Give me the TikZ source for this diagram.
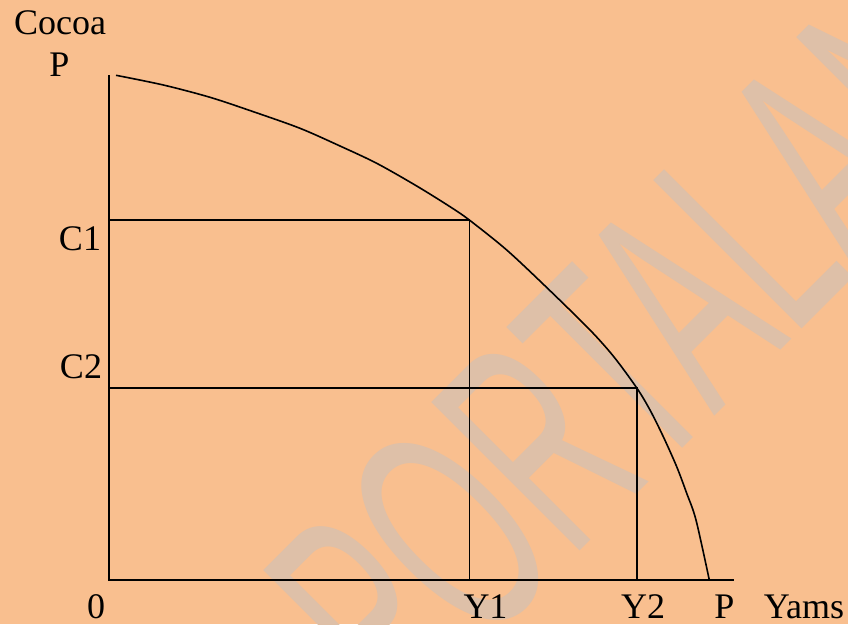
\documentclass[tikz,border=0pt]{standalone}
\usepackage{fontspec}
\setmainfont{Liberation Serif}
\newfontfamily\wmfont{Liberation Sans}
\definecolor{bgpeach}{RGB}{249,191,143}
\definecolor{wmtan}{RGB}{222,192,168}
\begin{document}
\begin{tikzpicture}[x=1pt,y=1pt,
  lbl/.style={font=\fontsize{36}{40}\selectfont, inner sep=0, anchor=base},
  axisline/.style={line width=2.2pt},
  guide/.style={line width=1.6pt},
  ppf/.style={line width=1.6pt}]
\useasboundingbox (0,0) rectangle (848,624);
\fill[bgpeach] (0,0) rectangle (848,624);
\begin{scope}
\clip (0,0) rectangle (848,624);
\node[text=wmtan, font=\wmfont\fontsize{305}{305}\selectfont, anchor=base west, rotate=45, inner sep=0] (wm) at (402,-105) {\scalebox{0.54}[1]{PORTALAN}};
\end{scope}
\coordinate (O) at (109.3,44);
\coordinate (ytop) at (109.3,548.7);
\coordinate (xend) at (734,44);
\coordinate (c1) at (109.3,404);
\coordinate (c2) at (109.3,235.7);
\coordinate (a) at (469.3,404);
\coordinate (b) at (637,235.7);
\coordinate (y1) at (469.3,44);
\coordinate (y2) at (637,44);
\coordinate (pstart) at (116,548.7);
\coordinate (pend) at (709.3,44);
\draw[axisline] (ytop) -- (O) -- (xend);
\draw[guide] (c1) -- (a) -- (y1);
\draw[guide] (c2) -- (b) -- (y2);
\draw[ppf] plot[smooth, tension=0.5] coordinates {(pstart) (163.3,539) (210,526.7) (253.3,512.3) (300,495.7) (340,478) (376.7,460.7) (416.7,438) (450,417.3) (a) (506.7,374) (546.7,336.5) (590,294) (614,267) (b) (650,214) (663.3,187.3) (676.7,157.3) (686.7,130.7) (696,104) (pend)};
\node[lbl] (cocoa) at (60,589.5) {Cocoa};
\node[lbl] (ptop) at (59.5,547) {P};
\node[lbl] (lc1) at (80,373.5) {C1};
\node[lbl] (lc2) at (81,245) {C2};
\node[lbl] (l0) at (96,6) {0};
\node[lbl] (ly1) at (485.5,6) {Y1};
\node[lbl] (ly2) at (643,6) {Y2};
\node[lbl] (lp) at (724.5,6) {P};
\node[lbl] (lyams) at (804,6) {Yams};
\end{tikzpicture}
\end{document}
